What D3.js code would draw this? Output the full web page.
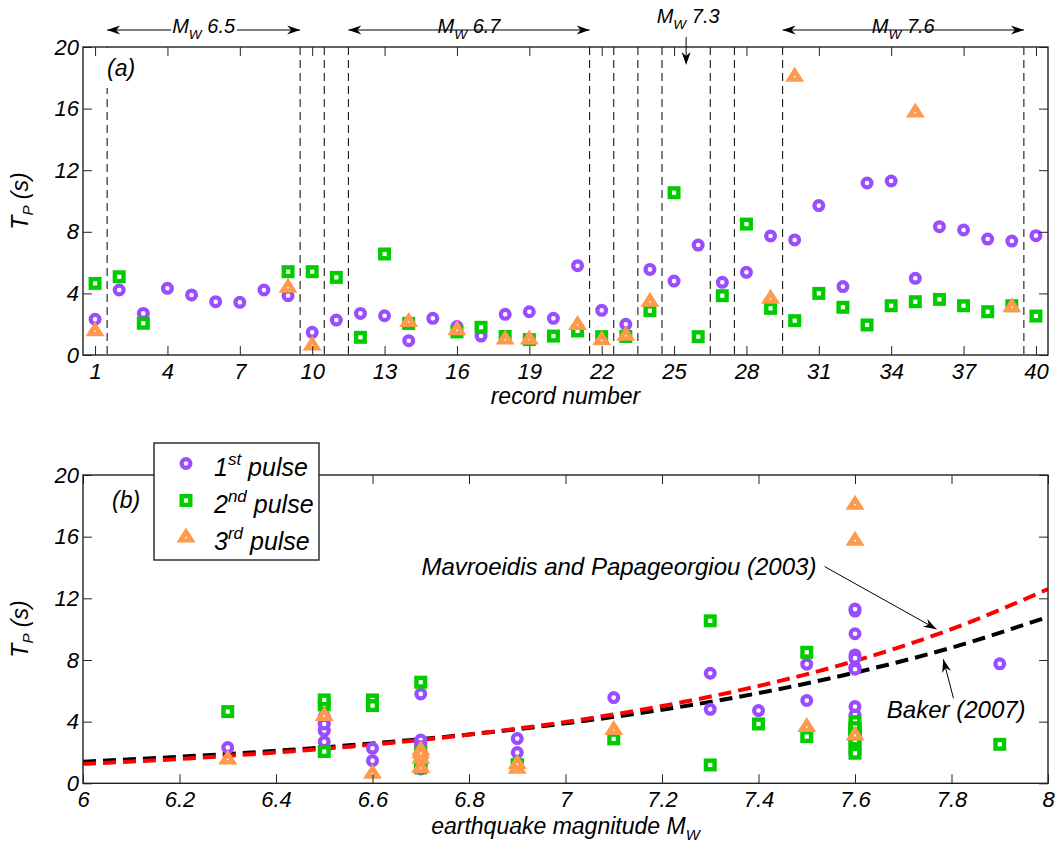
<!DOCTYPE html>
<html>
<head>
<meta charset="utf-8">
<script src="https://cdn.jsdelivr.net/npm/d3@7"></script>
<style>
  body { margin: 0; background: #fff; }
  text { font-family: "Liberation Sans", Arial, sans-serif; font-style: italic; fill: #000; }
</style>
</head>
<body>
<svg width="1056" height="845"></svg>
<script>
// record numbers and earthquake magnitude of each record
const recordNo = [1,2,3,4,5,6,7,8,9,10,11,12,13,14,15,16,17,18,19,20,
                  21,22,23,24,25,26,27,28,29,30,31,32,33,34,35,36,37,38,39,40];
const magnitude = [6.3, 6.5,6.5,6.5,6.5,6.5,6.5,6.5,6.5, 6.6,6.6,
                   6.7,6.7,6.7,6.7,6.7,6.7,6.7,6.7,6.7,6.7, 6.9,6.9, 7.1, 7.3,7.3, 7.4, 7.5,7.5,
                   7.6,7.6,7.6,7.6,7.6,7.6,7.6,7.6,7.6,7.6, 7.9];

// pulse periods Tp (s), null = no pulse
const pulse1 = [2.32,4.22,2.70,4.33,3.90,3.46,3.42,4.22,3.85,1.47,
                2.27,2.70,2.55,0.93,2.38,1.85,1.23,2.64,2.81,2.38,
                5.80,2.90,1.99,5.56,4.80,7.14,4.72,5.37,7.73,7.47,
                9.70,4.44,11.17,11.30,4.98,8.33,8.12,7.53,7.40,7.75];
const pulse2 = [4.65,5.08,2.06,null,null,null,null,null,5.41,5.41,
                5.04,1.15,6.56,2.05,null,1.50,1.80,1.20,1.00,1.23,
                1.56,1.19,1.20,2.88,10.54,1.19,3.85,8.50,3.03,2.23,
                4.00,3.10,1.95,3.20,3.46,3.61,3.20,2.81,3.20,2.53];
const pulse3 = [1.55,null,null,null,null,null,null,null,4.37,0.62,
                null,null,null,2.15,null,1.60,null,1.00,1.00,null,
                1.95,0.95,1.25,3.45,null,null,null,null,3.65,18.07,
                null,null,null,null,15.74,null,null,null,3.10,null];

const curveMw  = [6.0,6.2,6.4,6.6,6.8,7.0,7.2,7.4,7.6,7.8,8.0];
const mpTp     = [1.26,1.58,2.00,2.51,3.16,3.98,5.01,6.31,7.94,10.0,12.6];
const bakerTp  = [1.40,1.72,2.11,2.59,3.17,3.89,4.77,5.85,7.18,8.80,10.8];

const xTicksA = [1,4,7,10,13,16,19,22,25,28,31,34,37,40];
const xTicksB = [6,6.2,6.4,6.6,6.8,7,7.2,7.4,7.6,7.8,8];
const yTicks  = [0,4,8,12,16,20];
const boundaries = [1.5,9.5,10.5,11.5,21.5,22.5,23.5,24.5,26.5,27.5,29.5,39.5];
const magSpans = [{mw:"6.5", from:1.5, to:9.5}, {mw:"6.7", from:11.5, to:21.5},
                  {mw:"7.6", from:29.5, to:39.5}];
const magPoint = {mw:"7.3", at:25.5};

const colors = {p1:"#9a4dff", p2:"#00cc00", p3:"#ff9a4d"};

const svg = d3.select("svg");
const L = 83, R = 1048;

const x = d3.scaleLinear().domain([0.5, 40.5]).range([L, R]);
const ya = d3.scaleLinear().domain([0, 20]).range([355, 47]);
const xb = d3.scaleLinear().domain([6, 8]).range([L, R]);
const yb = d3.scaleLinear().domain([0, 20]).range([783.3, 475]);

function drawMarkers(g, data, kind) {
  data.forEach(d => {
    if (kind === "p1") {
      g.append("circle").attr("cx", d[0]).attr("cy", d[1]).attr("r", 4.4)
        .attr("fill", "#fff").attr("stroke", colors.p1).attr("stroke-width", 4.2);
    } else if (kind === "p2") {
      g.append("rect").attr("x", d[0]-4.3).attr("y", d[1]-4.3).attr("width", 8.6).attr("height", 8.6)
        .attr("fill", "#fff").attr("stroke", colors.p2).attr("stroke-width", 4.4);
    } else {
      g.append("path").attr("d", `M${d[0]},${d[1]-10}L${d[0]+9.5},${d[1]+5}L${d[0]-9.5},${d[1]+5}Z`)
        .attr("fill", colors.p3);
      g.append("circle").attr("cx", d[0]).attr("cy", d[1]).attr("r", 0.9).attr("fill", "#fff");
    }
  });
}

function frame(g, xs, ys, xt, xfmt) {
  g.append("g").attr("transform", `translate(0,${ys.range()[0]})`)
    .call(d3.axisBottom(xs).tickValues(xt).tickSize(-9).tickPadding(8.5).tickFormat(xfmt))
    .call(a => a.select(".domain").remove())
    .call(a => a.selectAll("text").attr("font-size", 22).attr("font-family", null))
    .call(a => a.selectAll("line").attr("stroke", "#222"));
  g.append("g").attr("transform", `translate(0,${ys.range()[1]})`)
    .call(d3.axisTop(xs).tickValues(xt).tickSize(-9).tickFormat(""))
    .call(a => a.select(".domain").remove())
    .call(a => a.selectAll("line").attr("stroke", "#222"));
  g.append("g").attr("transform", `translate(${L},0)`)
    .call(d3.axisLeft(ys).tickValues(yTicks).tickSize(-9).tickPadding(4))
    .call(a => a.select(".domain").remove())
    .call(a => a.selectAll("text").attr("font-size", 22).attr("font-family", null))
    .call(a => a.selectAll("line").attr("stroke", "#222"));
  g.append("g").attr("transform", `translate(${R},0)`)
    .call(d3.axisRight(ys).tickValues(yTicks).tickSize(-9).tickFormat(""))
    .call(a => a.select(".domain").remove())
    .call(a => a.selectAll("line").attr("stroke", "#222"));
  g.append("rect").attr("x", L).attr("y", ys.range()[1])
    .attr("width", R - L).attr("height", ys.range()[0] - ys.range()[1])
    .attr("fill", "none").attr("stroke", "#222").attr("stroke-width", 1.4);
}

function yLabel(g, cy) {
  const t = g.append("text").attr("transform", `translate(28,${cy}) rotate(-90)`)
    .attr("text-anchor", "middle").attr("font-size", 23);
  t.append("tspan").text("T");
  t.append("tspan").attr("font-size", 15).attr("dy", 5).text("P");
  t.append("tspan").attr("dy", -5).text(" (s)");
}

function mwText(g, xx, yy, val, size) {
  const t = g.append("text").attr("x", xx).attr("y", yy).attr("text-anchor", "middle")
    .attr("font-size", size);
  t.append("tspan").text("M");
  t.append("tspan").attr("font-size", size * 0.68).attr("dy", size * 0.32).text("W");
  t.append("tspan").attr("dy", -size * 0.32).text(" " + val);
  return t;
}

function arrowHead(g, tx, ty, angle) {
  g.append("path").attr("d", "M0,0L-13,-4.5L-9,0L-13,4.5Z")
    .attr("transform", `translate(${tx},${ty}) rotate(${angle})`).attr("fill", "#000");
}

function boxedLabel(g, xx, yy, str) {
  const t = g.append("text").attr("x", xx).attr("y", yy).attr("font-size", 23).text(str);
  const b = t.node().getBBox();
  g.insert("rect", "text").attr("x", b.x - 6).attr("y", b.y - 7)
    .attr("width", b.width + 12).attr("height", b.height + 14).attr("fill", "#fff");
}

// ---------- panel (a)
const ga = svg.append("g");
ga.selectAll("line.sep").data(boundaries).enter().append("line")
  .attr("x1", d => x(d)).attr("x2", d => x(d)).attr("y1", ya(20)).attr("y2", ya(0))
  .attr("stroke", "#000").attr("stroke-width", 1).attr("stroke-dasharray", "8,5");
boxedLabel(ga.append("g"), 107, 76, "(a)");

const ptsA = k => recordNo.map((r, i) => [r, k[i]]).filter(d => d[1] != null).map(d => [x(d[0]), ya(d[1])]);
drawMarkers(ga.append("g"), ptsA(pulse1), "p1");
drawMarkers(ga.append("g"), ptsA(pulse2), "p2");
drawMarkers(ga.append("g"), ptsA(pulse3), "p3");
frame(ga, x, ya, xTicksA, d3.format("d"));
yLabel(ga, 201);
ga.append("text").attr("x", (L + R) / 2).attr("y", 404).attr("text-anchor", "middle")
  .attr("font-size", 23).text("record number");

// magnitude spans above panel (a)
const above = svg.append("g");
magSpans.forEach(s => {
  const x1 = x(s.from), x2 = x(s.to);
  above.append("line").attr("x1", x1).attr("x2", x2).attr("y1", 30).attr("y2", 30)
    .attr("stroke", "#000").attr("stroke-width", 1);
  arrowHead(above, x1, 30, 180);
  arrowHead(above, x2, 30, 0);
  const t = mwText(above, (x1 + x2) / 2, 33, s.mw, 20);
  const b = t.node().getBBox();
  above.insert("rect", "text").attr("x", b.x - 1).attr("y", b.y)
    .attr("width", b.width + 2).attr("height", b.height).attr("fill", "#fff");
});
mwText(above, x(magPoint.at) + 2, 23, magPoint.mw, 20);
above.append("line").attr("x1", x(magPoint.at)).attr("x2", x(magPoint.at))
  .attr("y1", 37).attr("y2", 63).attr("stroke", "#000").attr("stroke-width", 1);
arrowHead(above, x(magPoint.at), 65, 90);

// ---------- panel (b)
const gb = svg.append("g");
const line = d3.line().x((d, i) => xb(curveMw[i])).y(d => yb(d)).curve(d3.curveMonotoneX);
svg.append("defs").append("clipPath").attr("id", "clipb").append("rect")
  .attr("x", L).attr("y", 475).attr("width", R - L).attr("height", 308.3);
gb.append("path").attr("d", line(bakerTp)).attr("fill", "none").attr("stroke", "#000")
  .attr("stroke-width", 4).attr("stroke-dasharray", "13,7").attr("clip-path", "url(#clipb)");
gb.append("path").attr("d", line(mpTp)).attr("fill", "none").attr("stroke", "#ff0000")
  .attr("stroke-width", 4).attr("stroke-dasharray", "13,7").attr("clip-path", "url(#clipb)");

const ptsB = k => magnitude.map((m, i) => [m, k[i]]).filter(d => d[1] != null).map(d => [xb(d[0]), yb(d[1])]);
drawMarkers(gb.append("g"), ptsB(pulse1), "p1");
drawMarkers(gb.append("g"), ptsB(pulse2), "p2");
drawMarkers(gb.append("g"), ptsB(pulse3), "p3");
frame(gb, xb, yb, xTicksB, d => String(d));
yLabel(gb, 629);
const xl = gb.append("text").attr("x", (L + R) / 2).attr("y", 834).attr("text-anchor", "middle")
  .attr("font-size", 23);
xl.append("tspan").text("earthquake magnitude M");
xl.append("tspan").attr("font-size", 15).attr("dy", 6).text("W");

gb.append("text").attr("x", 112).attr("y", 508).attr("font-size", 23).text("(b)");

// model annotations
const notes = [
  {text:"Mavroeidis and Papageorgiou (2003)", anchor:"end", tx:7.52, ty:13.5, from:[7.537,14.06], to:[7.769,10.0]},
  {text:"Baker (2007)", anchor:"start", tx:7.666, ty:4.22, from:[7.804,5.52], to:[7.783,8.05]}
];
notes.forEach(n => {
  gb.append("text").attr("x", xb(n.tx)).attr("y", yb(n.ty)).attr("text-anchor", n.anchor)
    .attr("font-size", 24).text(n.text);
  const x1 = xb(n.from[0]), y1 = yb(n.from[1]), x2 = xb(n.to[0]), y2 = yb(n.to[1]);
  gb.append("line").attr("x1", x1).attr("y1", y1).attr("x2", x2).attr("y2", y2)
    .attr("stroke", "#000").attr("stroke-width", 1);
  arrowHead(gb, x2, y2, Math.atan2(y2 - y1, x2 - x1) * 180 / Math.PI);
});

// legend
const lg = svg.append("g");
lg.append("rect").attr("x", 154).attr("y", 443).attr("width", 165).attr("height", 117)
  .attr("fill", "#fff").attr("stroke", "#222").attr("stroke-width", 1.4);
const legendItems = [
  {k:"p1", n:"1", sup:"st", y:463.5},
  {k:"p2", n:"2", sup:"nd", y:500.5},
  {k:"p3", n:"3", sup:"rd", y:537.5}
];
legendItems.forEach(it => {
  drawMarkers(lg, [[186, it.y]], it.k);
  const t = lg.append("text").attr("x", 214).attr("y", it.y + 12).attr("font-size", 25);
  t.append("tspan").text(it.n);
  t.append("tspan").attr("font-size", 17).attr("dy", -11).text(it.sup);
  t.append("tspan").attr("dy", 11).text(" pulse");
});
</script>
</body>
</html>
